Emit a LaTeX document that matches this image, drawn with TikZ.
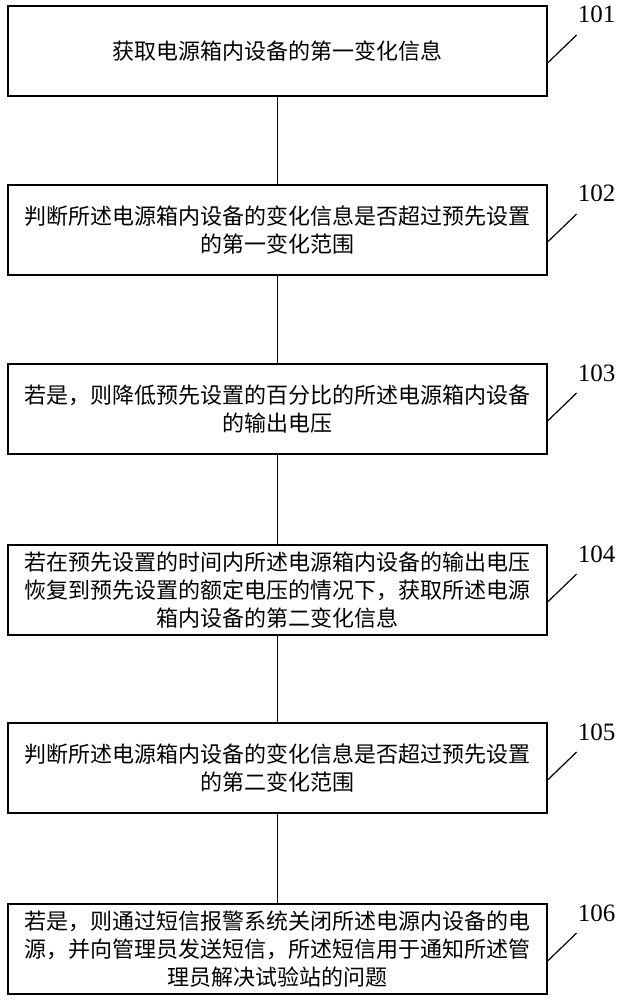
\documentclass[tikz,border=0pt]{standalone}
\usepackage{fontspec}
\setmainfont{Liberation Serif}
\newfontfamily\cjk{Noto Sans CJK SC}

\begin{document}
\begin{tikzpicture}[x=1pt, y=-1pt,
  stepbox/.style={draw, line width=1.2pt, minimum width=539pt, minimum height=90pt,
    inner sep=0pt, align=center, font=\cjk\fontsize{22}{28}\selectfont},
  tag/.style={font=\fontsize{25}{25}\selectfont, inner sep=0pt, anchor=base west}]
  \useasboundingbox (0,0) rectangle (618,1000);
  \node[stepbox] (b1) at (277.5,51) {获取电源箱内设备的第一变化信息};
  \node[stepbox] (b2) at (277.5,230) {判断所述电源箱内设备的变化信息是否超过预先设置\\的第一变化范围};
  \node[stepbox] (b3) at (277.5,409) {若是，则降低预先设置的百分比的所述电源箱内设备\\的输出电压};
  \node[stepbox] (b4) at (277.5,590) {若在预先设置的时间内所述电源箱内设备的输出电压\\恢复到预先设置的额定电压的情况下，获取所述电源\\箱内设备的第二变化信息};
  \node[stepbox] (b5) at (277.5,768) {判断所述电源箱内设备的变化信息是否超过预先设置\\的第二变化范围};
  \node[stepbox] (b6) at (277.5,949) {若是，则通过短信报警系统关闭所述电源内设备的电\\源，并向管理员发送短信，所述短信用于通知所述管\\理员解决试验站的问题};
  % connectors between steps
  \foreach \i [evaluate=\i as \j using int(\i+1)] in {1,...,5}
    \draw[line width=1.2pt] (b\i) -- (b\j);
  % step numbers
  \foreach \i in {1,...,6} {
    \draw[line width=1.2pt] ([yshift=-12pt]b\i.east) -- ++(29,-28) coordinate (c\i);
    \node[tag] (t\i) at ([xshift=1pt, yshift=12pt]c\i) {10\i};
  }
\end{tikzpicture}
\end{document}
